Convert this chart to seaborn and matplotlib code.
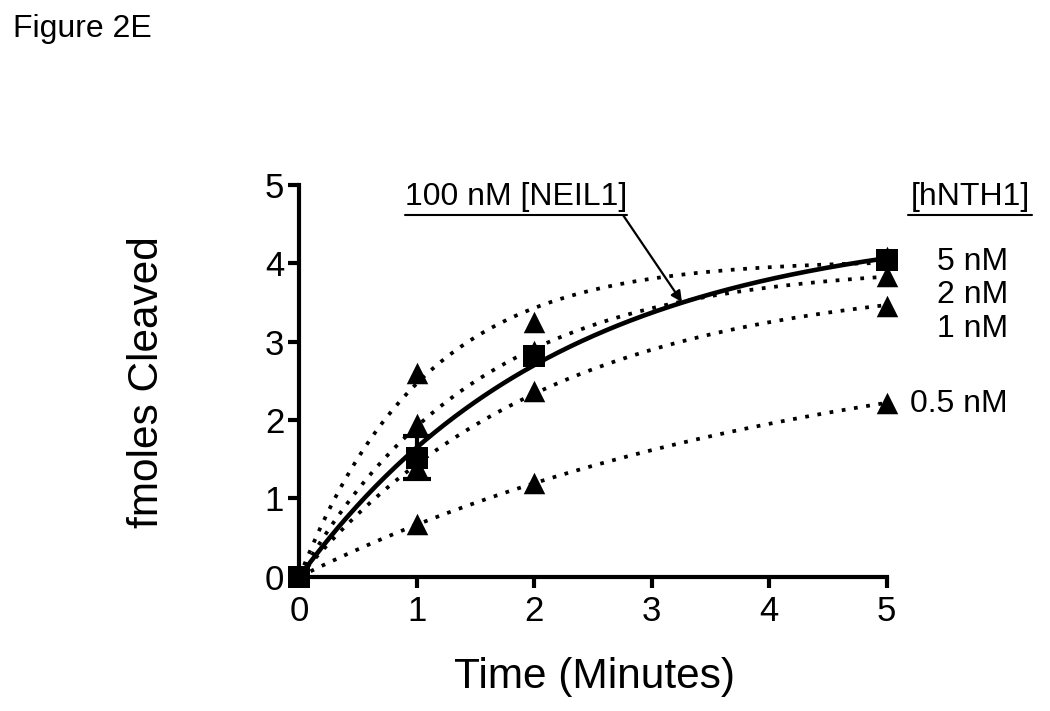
import numpy as np
import pandas as pd
import matplotlib
matplotlib.use("Agg")
import matplotlib.pyplot as plt
import seaborn as sns

# ---- data ----
time_min = [0, 1, 2, 5]
neil1_100nM = [0.0, 1.52, 2.82, 4.04]          # squares (100 nM NEIL1 alone)
neil1_sem = [0.0, 0.27, 0.0, 0.0]
hnth1_labels = ["5 nM", "2 nM", "1 nM", "0.5 nM"]
hnth1_5nM = [0.0, 2.60, 3.25, 4.08]
hnth1_2nM = [0.0, 1.95, 2.88, 3.84]
hnth1_1nM = [0.0, 1.40, 2.37, 3.46]
hnth1_05nM = [0.0, 0.67, 1.19, 2.22]
x_ticks = [0, 1, 2, 3, 4, 5]
y_ticks = [0, 1, 2, 3, 4, 5]


def one_phase_fit(x, y, n=300):
    """Least-squares fit of y = Ymax*(1-exp(-k x)) (as in the original Prism fit)."""
    x = np.asarray(x, float)
    y = np.asarray(y, float)
    best = None
    for k in np.linspace(0.02, 4, 4000):
        f = 1 - np.exp(-k * x)
        ymax = (f @ y) / (f @ f)
        sse = np.sum((y - ymax * f) ** 2)
        if best is None or sse < best[0]:
            best = (sse, k, ymax)
    xs = np.linspace(0, x.max(), n)
    return xs, best[2] * (1 - np.exp(-best[1] * xs))


sns.set_style("ticks")
plt.rcParams["font.family"] = ["Liberation Sans", "DejaVu Sans"]
plt.rcParams["text.color"] = "black"
plt.rcParams["axes.labelcolor"] = "black"

fig = plt.figure(figsize=(10.5, 7.11), dpi=100)
ax = fig.add_axes([0.2852, 0.1889, 0.5592, 0.5509])

# fitted curves
curves = []
for lab, ys in zip(hnth1_labels, [hnth1_5nM, hnth1_2nM, hnth1_1nM, hnth1_05nM]):
    xs, yf = one_phase_fit(time_min, ys)
    curves.append(pd.DataFrame({"t": xs, "y": yf, "series": lab}))
dotted = pd.concat(curves, ignore_index=True)
xs, yf = one_phase_fit(time_min, neil1_100nM)
solid = pd.DataFrame({"t": xs, "y": yf})

for lab in hnth1_labels:
    sns.lineplot(data=dotted[dotted.series == lab], x="t", y="y", ax=ax,
                 color="black", lw=2.7, linestyle=(0, (1, 2.3)),
                 dash_capstyle="butt", legend=False, zorder=2)
sns.lineplot(data=solid, x="t", y="y", ax=ax, color="black", lw=3.3,
             legend=False, zorder=3)

# triangles
tri = pd.DataFrame({
    "t": time_min * 4,
    "y": hnth1_5nM + hnth1_2nM + hnth1_1nM + hnth1_05nM,
})
tri = tri[tri.t > 0]
sns.scatterplot(data=tri, x="t", y="y", ax=ax, marker="^", s=240,
                color="black", edgecolor="black", linewidth=0, zorder=4,
                clip_on=False, legend=False)

# squares with error bars
err = pd.DataFrame({"t": time_min, "y": neil1_100nM, "e": neil1_sem})
err = err[err.e > 0]
ax.errorbar(err.t, err.y, yerr=err.e, fmt="none", ecolor="black",
            elinewidth=3, capsize=10, capthick=3, zorder=5, clip_on=False)
sq = pd.DataFrame({"t": time_min, "y": neil1_100nM})
sns.scatterplot(data=sq, x="t", y="y", ax=ax, marker="s", s=260,
                color="black", edgecolor="black", linewidth=0, zorder=6,
                clip_on=False, legend=False)

# axes styling
ax.set_xlim(0, 5)
ax.set_ylim(0, 5)
ax.set_xticks(x_ticks)
ax.set_yticks(y_ticks)
ax.set_xticklabels([str(v) for v in x_ticks])
ax.set_yticklabels([str(v) for v in y_ticks])
for s in ["top", "right"]:
    ax.spines[s].set_visible(False)
for s in ["left", "bottom"]:
    ax.spines[s].set_linewidth(3)
    ax.spines[s].set_color("black")
ax.tick_params(axis="both", direction="out", length=8, width=3,
               labelsize=25, colors="black")
ax.tick_params(axis="x", pad=5)
ax.tick_params(axis="y", pad=3)

ax.set_xlabel("Time (Minutes)", fontsize=30.5)
ax.set_ylabel("fmoles Cleaved", fontsize=30.5)
ax.xaxis.set_label_coords(0.503, -0.205)
ax.yaxis.set_label_coords(-0.225, 0.497)

# annotations
ax.text(1.843, 4.742, "100 nM [NEIL1]", fontsize=23, ha="center",
        va="baseline", clip_on=False)
ax.plot([0.898, 2.789], [4.617, 4.617], color="black", lw=1.5, clip_on=False)
ax.annotate("", xy=(3.257, 3.506), xytext=(2.755, 4.617),
            arrowprops=dict(arrowstyle="-|>", color="black", lw=1.6,
                            mutation_scale=16, shrinkA=0, shrinkB=0),
            annotation_clip=False)

ax.text(5.709, 4.742, "[hNTH1]", fontsize=23, ha="center", va="baseline",
        clip_on=False)
ax.plot([5.181, 6.237], [4.617, 4.617], color="black", lw=1.5, clip_on=False)

label_y = [3.915, 3.49, 3.06, 2.10]
for lab, yy in zip(hnth1_labels, label_y):
    ax.text(6.033, yy, lab, fontsize=23, ha="right", va="baseline",
            clip_on=False)

fig.text(13 / 1050, 1 - 37 / 711, "Figure 2E", fontsize=23, ha="left",
         va="baseline")

fig.savefig("out.png", dpi=100)
